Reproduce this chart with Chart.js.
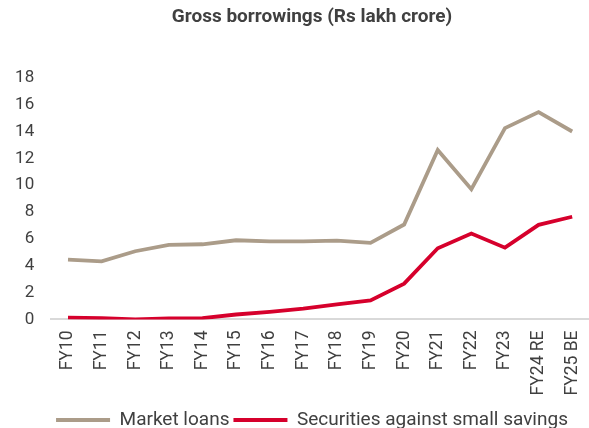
<!DOCTYPE html>
<html lang="en">
<head>
<meta charset="UTF-8">
<title>Gross borrowings</title>
<script src="https://cdn.jsdelivr.net/npm/chart.js"></script>
<style>
  html, body { margin: 0; padding: 0; background: #fff; }
  #wrap { width: 589px; height: 428px; }
</style>
</head>
<body>
<div id="wrap"><canvas id="borrowChart"></canvas></div>
<script>
const years = ['FY10', 'FY11', 'FY12', 'FY13', 'FY14', 'FY15', 'FY16', 'FY17',
  'FY18', 'FY19', 'FY20', 'FY21', 'FY22', 'FY23', 'FY24 RE', 'FY25 BE'];
const marketLoans = [4.45, 4.33, 5.08, 5.55, 5.6, 5.9, 5.82, 5.82, 5.87, 5.7,
  7.07, 12.63, 9.7, 14.25, 15.45, 14.0];
const smallSavings = [0.13, 0.1, 0.0, 0.08, 0.1, 0.37, 0.57, 0.8, 1.12, 1.42,
  2.67, 5.3, 6.4, 5.35, 7.05, 7.65];

const tan = '#ab9c89';
const red = '#d6002c';
const font = "'Roboto', 'Noto Sans', sans-serif";

// legend swatches: flat bars, no outline
const baseLabels = Chart.defaults.plugins.legend.labels.generateLabels;

new Chart(document.getElementById('borrowChart'), {
  type: 'line',
  data: {
    labels: years,
    datasets: [
      {
        label: 'Market loans',
        data: marketLoans,
        borderColor: tan,
        backgroundColor: tan,
        borderWidth: 3.8,
        pointRadius: 0,
        tension: 0
      },
      {
        label: 'Securities against small savings',
        data: smallSavings,
        borderColor: red,
        backgroundColor: red,
        borderWidth: 3.8,
        pointRadius: 0,
        tension: 0
      }
    ]
  },
  options: {
    responsive: true,
    maintainAspectRatio: false,
    animation: false,
    layout: { padding: { top: 6, right: -9, bottom: -11.5, left: 26 } },
    plugins: {
      title: {
        display: true,
        text: 'Gross borrowings (Rs lakh crore)',
        color: '#404040',
        font: { family: font, size: 19, weight: 'bold' },
        padding: { top: 0, bottom: 49 }
      },
      legend: {
        position: 'bottom',
        labels: {
          color: '#404040',
          font: { family: font, size: 19 },
          boxWidth: 54,
          boxHeight: 4,
          padding: 4,
          generateLabels(chart) {
            return baseLabels(chart).map(item => ({ ...item, lineWidth: 0 }));
          }
        }
      },
      tooltip: { enabled: false }
    },
    scales: {
      x: {
        offset: true,
        grid: { display: false, drawTicks: false },
        border: { color: '#d9d9d9', width: 2 },
        ticks: {
          color: '#404040',
          font: { family: font, size: 17.5 },
          minRotation: 90,
          maxRotation: 90,
          padding: 11,
          autoSkip: false
        },
        afterFit(axis) { axis.paddingLeft = 0; axis.paddingRight = 0; }
      },
      y: {
        min: 0,
        max: 18,
        grid: { display: false, drawTicks: false },
        border: { display: false },
        ticks: {
          stepSize: 2,
          color: '#404040',
          font: { family: font, size: 17 },
          padding: 17
        },
        afterFit(axis) {
          axis.width = 25.2;
          // labels hang out past the narrow axis box, so don't clip them
          axis._computeLabelArea = () => undefined;
        }
      }
    }
  }
});
</script>
</body>
</html>
